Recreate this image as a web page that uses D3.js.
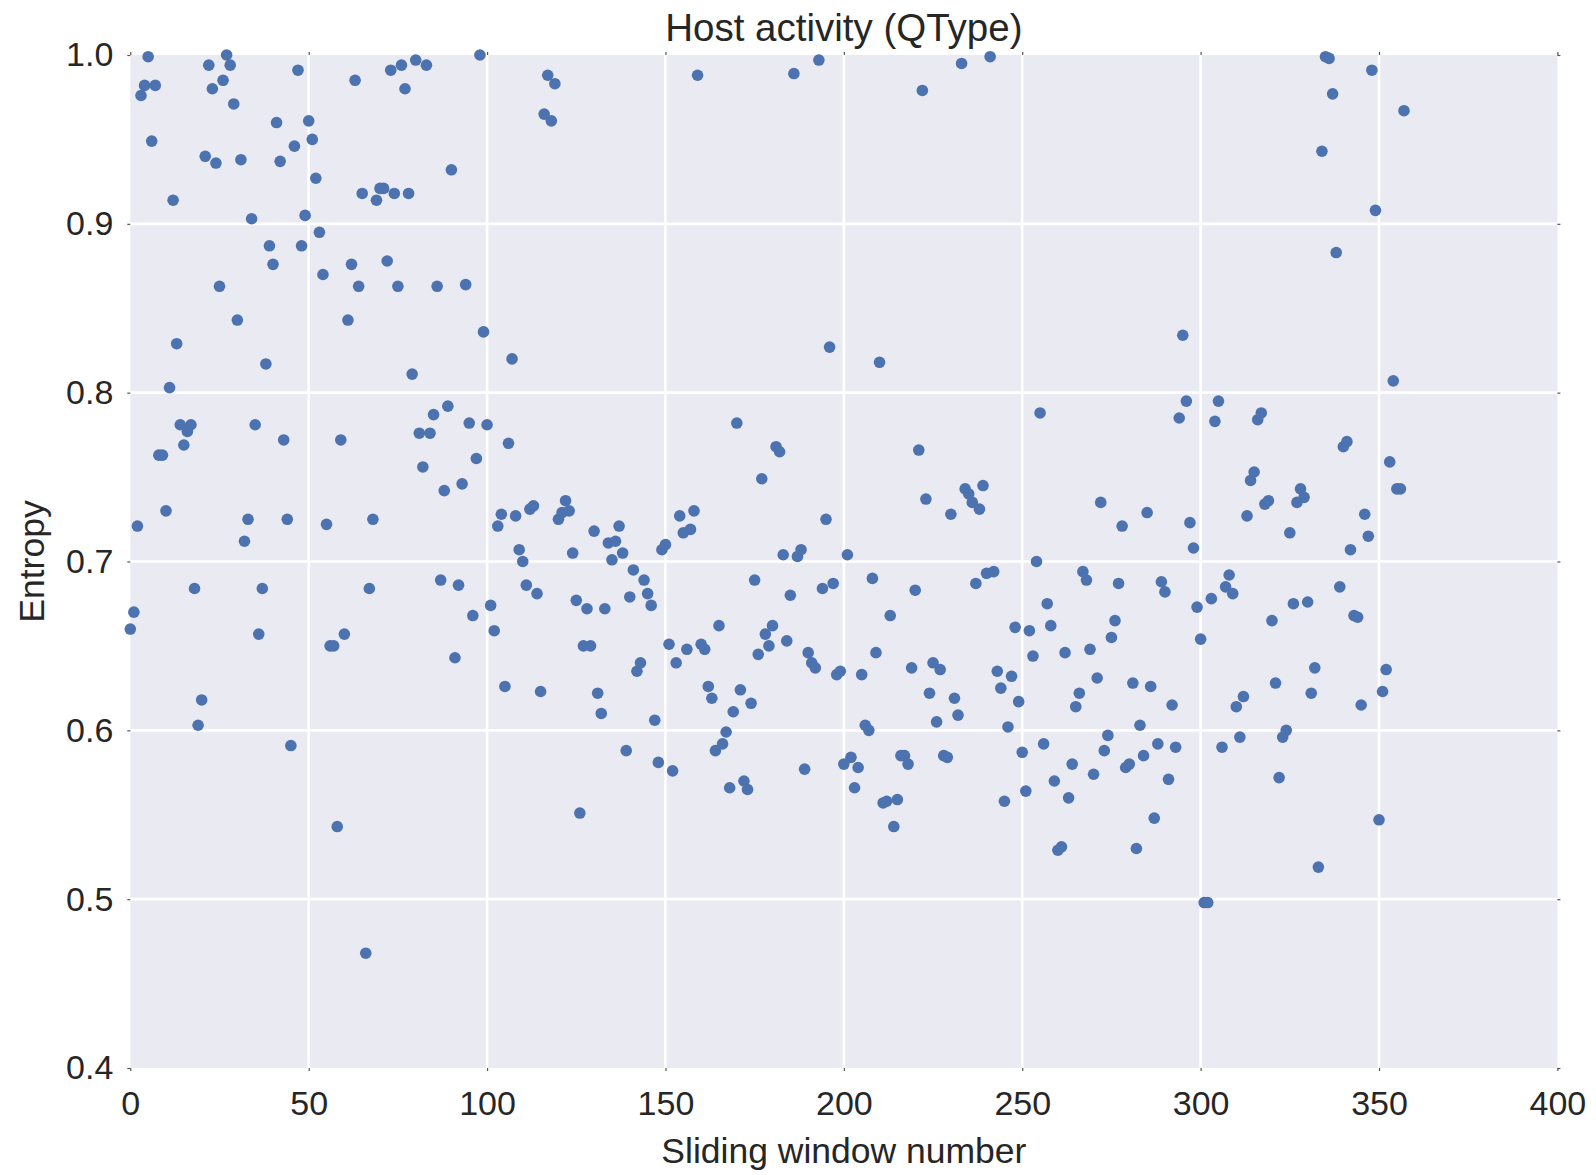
<!DOCTYPE html>
<html>
<head>
<meta charset="utf-8">
<script src="https://cdnjs.cloudflare.com/ajax/libs/d3/7.8.5/d3.min.js"></script>
<style>
  html, body { margin: 0; padding: 0; background: #ffffff; }
  svg { display: block; }
  text { font-family: "Liberation Sans", Arial, sans-serif; fill: #262626; }
</style>
</head>
<body>
<svg id="chart" width="1596" height="1175"></svg>
<script>
// Entropy per sliding window (window numbers 0..357, one value each)
const entropy = [
  0.660, 0.670, 0.721, 0.976, 0.982, 0.999, 0.949, 0.982, 0.763, 0.763,
  0.730, 0.803, 0.914, 0.829, 0.781, 0.769, 0.777, 0.781, 0.684, 0.603,
  0.618, 0.940, 0.994, 0.980, 0.936, 0.863, 0.985, 1.000, 0.994, 0.971,
  0.843, 0.938, 0.712, 0.725, 0.903, 0.781, 0.657, 0.684, 0.817, 0.887,
  0.876, 0.960, 0.937, 0.772, 0.725, 0.591, 0.946, 0.991, 0.887, 0.905,
  0.961, 0.950, 0.927, 0.895, 0.870, 0.722, 0.650, 0.650, 0.543, 0.772,
  0.657, 0.843, 0.876, 0.985, 0.863, 0.918, 0.468, 0.684, 0.725, 0.914,
  0.921, 0.921, 0.878, 0.991, 0.918, 0.863, 0.994, 0.980, 0.918, 0.811,
  0.997, 0.776, 0.756, 0.994, 0.776, 0.787, 0.863, 0.689, 0.742, 0.792,
  0.932, 0.643, 0.686, 0.746, 0.864, 0.782, 0.668, 0.761, 1.000, 0.836,
  0.781, 0.674, 0.659, 0.721, 0.728, 0.626, 0.770, 0.820, 0.727, 0.707,
  0.700, 0.686, 0.731, 0.733, 0.681, 0.623, 0.965, 0.988, 0.961, 0.983,
  0.725, 0.729, 0.736, 0.730, 0.705, 0.677, 0.551, 0.650, 0.672, 0.650,
  0.718, 0.622, 0.610, 0.672, 0.711, 0.701, 0.712, 0.721, 0.705, 0.588,
  0.679, 0.695, 0.635, 0.640, 0.689, 0.681, 0.674, 0.606, 0.581, 0.707,
  0.710, 0.651, 0.576, 0.640, 0.727, 0.717, 0.648, 0.719, 0.730, 0.988,
  0.651, 0.648, 0.626, 0.619, 0.588, 0.662, 0.592, 0.599, 0.566, 0.611,
  0.782, 0.624, 0.570, 0.565, 0.616, 0.689, 0.645, 0.749, 0.657, 0.650,
  0.662, 0.768, 0.765, 0.704, 0.653, 0.680, 0.989, 0.703, 0.707, 0.577,
  0.646, 0.640, 0.637, 0.997, 0.684, 0.725, 0.827, 0.687, 0.633, 0.635,
  0.580, 0.704, 0.584, 0.566, 0.578, 0.633, 0.603, 0.600, 0.690, 0.646,
  0.818, 0.557, 0.558, 0.668, 0.543, 0.559, 0.585, 0.585, 0.580, 0.637,
  0.683, 0.766, 0.979, 0.737, 0.622, 0.640, 0.605, 0.636, 0.585, 0.584,
  0.728, 0.619, 0.609, 0.995, 0.743, 0.740, 0.735, 0.687, 0.731, 0.745,
  0.693, 0.999, 0.694, 0.635, 0.625, 0.558, 0.602, 0.632, 0.661, 0.617,
  0.587, 0.564, 0.659, 0.644, 0.700, 0.788, 0.592, 0.675, 0.662, 0.570,
  0.529, 0.531, 0.646, 0.560, 0.580, 0.614, 0.622, 0.694, 0.689, 0.648,
  0.574, 0.631, 0.735, 0.588, 0.597, 0.655, 0.665, 0.687, 0.721, 0.578,
  0.580, 0.628, 0.530, 0.603, 0.585, 0.729, 0.626, 0.548, 0.592, 0.688,
  0.682, 0.571, 0.615, 0.590, 0.785, 0.834, 0.795, 0.723, 0.708, 0.673,
  0.654, 0.498, 0.498, 0.678, 0.783, 0.795, 0.590, 0.685, 0.692, 0.681,
  0.614, 0.596, 0.620, 0.727, 0.748, 0.753, 0.784, 0.788, 0.734, 0.736,
  0.665, 0.628, 0.572, 0.596, 0.600, 0.717, 0.675, 0.735, 0.743, 0.738,
  0.676, 0.622, 0.637, 0.519, 0.943, 0.999, 0.998, 0.977, 0.883, 0.685,
  0.768, 0.771, 0.707, 0.668, 0.667, 0.615, 0.728, 0.715, 0.991, 0.908,
  0.547, 0.623, 0.636, 0.759, 0.807, 0.743, 0.743, 0.967
];
const windowNumbers = entropy.map((_, i) => i);

const xTicks = [0, 50, 100, 150, 200, 250, 300, 350, 400];
const yTicks = [0.4, 0.5, 0.6, 0.7, 0.8, 0.9, 1.0];

const titleText = "Host activity (QType)";
const xLabelText = "Sliding window number";
const yLabelText = "Entropy";

const svg = d3.select("#chart");
const margin = { left: 130.3, right: 1596 - 1557.4, top: 55, bottom: 1175 - 1068 };
const W = 1596, H = 1175;
const innerW = W - margin.left - margin.right;
const innerH = H - margin.top - margin.bottom;

const x = d3.scaleLinear().domain([0, 400]).range([margin.left, margin.left + innerW]);
const y = d3.scaleLinear().domain([0.4, 1.0]).range([margin.top + innerH, margin.top]);

// plot background
svg.append("rect")
  .attr("x", margin.left).attr("y", margin.top)
  .attr("width", innerW).attr("height", innerH)
  .attr("fill", "#EAEAF2");

// grid lines
const grid = svg.append("g");
grid.selectAll("line.gx").data(xTicks.slice(1, -1)).join("line")
  .attr("x1", d => x(d)).attr("x2", d => x(d))
  .attr("y1", margin.top).attr("y2", margin.top + innerH)
  .attr("stroke", "#ffffff").attr("stroke-width", 2.6);
grid.selectAll("line.gy").data(yTicks.slice(1, -1)).join("line")
  .attr("y1", d => y(d)).attr("y2", d => y(d))
  .attr("x1", margin.left).attr("x2", margin.left + innerW)
  .attr("stroke", "#ffffff").attr("stroke-width", 2.6);

// axes with short tick marks
const tickSize = 3;
const xAxis = svg.append("g")
  .attr("transform", `translate(0,${margin.top + innerH})`)
  .call(d3.axisBottom(x).tickValues(xTicks).tickSize(tickSize).tickPadding(20).tickFormat(d3.format("d")));
const yAxis = svg.append("g")
  .attr("transform", `translate(${margin.left},0)`)
  .call(d3.axisLeft(y).tickValues(yTicks).tickSize(tickSize).tickPadding(14).tickFormat(d3.format(".1f")));
const xAxisTop = svg.append("g")
  .attr("transform", `translate(0,${margin.top})`)
  .call(d3.axisTop(x).tickValues(xTicks).tickSize(tickSize).tickFormat(""));
const yAxisRight = svg.append("g")
  .attr("transform", `translate(${margin.left + innerW},0)`)
  .call(d3.axisRight(y).tickValues(yTicks).tickSize(tickSize).tickFormat(""));

[xAxis, yAxis, xAxisTop, yAxisRight].forEach(g => {
  g.select(".domain").remove();
  g.selectAll(".tick line").attr("stroke", "#555555").attr("stroke-width", 1.2);
  g.selectAll(".tick text")
    .attr("font-family", "'Liberation Sans', Arial, sans-serif")
    .attr("font-size", 34).attr("fill", "#262626");
});

// points
svg.append("g").selectAll("circle").data(windowNumbers).join("circle")
  .attr("cx", d => x(d))
  .attr("cy", d => y(entropy[d]))
  .attr("r", 5.8)
  .attr("fill", "#4C72B0");

// title and axis labels
svg.append("text")
  .attr("x", margin.left + innerW / 2).attr("y", 41)
  .attr("text-anchor", "middle").attr("font-size", 38.5)
  .text(titleText);
svg.append("text")
  .attr("x", margin.left + innerW / 2).attr("y", 1163)
  .attr("text-anchor", "middle").attr("font-size", 35.5)
  .text(xLabelText);
svg.append("text")
  .attr("transform", `translate(44,${margin.top + innerH / 2}) rotate(-90)`)
  .attr("text-anchor", "middle").attr("font-size", 35.5)
  .text(yLabelText);
</script>
</body>
</html>
